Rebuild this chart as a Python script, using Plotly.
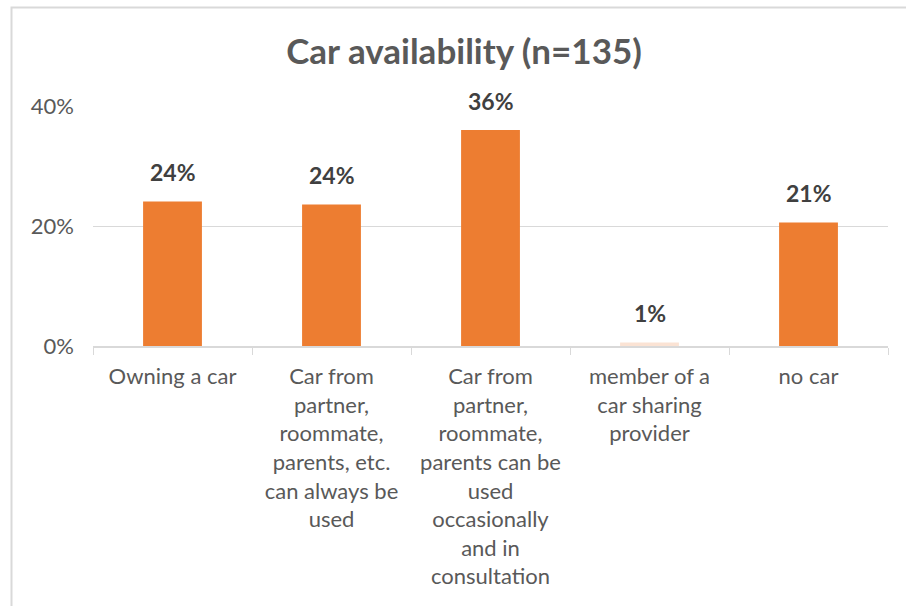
import plotly.graph_objects as go

categories = [
    "Owning a car",
    "Car from<br>partner,<br>roommate,<br>parents, etc.<br>can always be<br>used",
    "Car from<br>partner,<br>roommate,<br>parents can be<br>used<br>occasionally<br>and in<br>consultation",
    "member of a<br>car sharing<br>provider",
    "no car",
]
values = [24.1, 23.6, 36.0, 0.6, 20.6]
bar_colors = ["#ED7D31", "#ED7D31", "#ED7D31", "#FBE3D4", "#ED7D31"]
y_ticks = [0, 20, 40]
y_tick_labels = ["0%", "20%", "40%"]
title_text = "Car availability (n=135)"

FONT = "Lato"
W, H = 906, 606
L, R, T, B = 93, 18, 106, 260

fig = go.Figure()
fig.add_trace(go.Bar(
    x=categories, y=values, width=0.37,
    marker=dict(color=bar_colors, line=dict(width=0)),
    hoverinfo="skip",
))

for c, v in zip(categories, values):
    fig.add_annotation(
        x=c, y=v, xref="x", yref="y", text=f"<b>{round(v)}%</b>",
        showarrow=False, yanchor="middle", yshift=29,
        font=dict(family=FONT, size=23, color="#404040"),
    )

pw, ph = W - L - R, H - T - B
fig.add_shape(
    type="rect", xref="paper", yref="paper",
    x0=(11.5 - L) / pw, x1=(W + 20 - L) / pw,
    y0=-(H + 20 - (H - B)) / ph, y1=((H - B) - 7.5) / ph,
    line=dict(color="#D9D9D9", width=2), fillcolor="rgba(0,0,0,0)", layer="below",
)

fig.update_layout(
    width=W, height=H,
    margin=dict(l=L, r=R, t=T, b=B, autoexpand=False),
    paper_bgcolor="white", plot_bgcolor="white",
    showlegend=False,
    title=dict(
        text=f"<b>{title_text}</b>", x=464 / W, xanchor="center",
        y=1 - 52 / H, yanchor="middle", yref="container",
        font=dict(family=FONT, size=35, color="#595959"),
    ),
    font=dict(family=FONT, color="#595959"),
    bargap=0.63,
)
fig.update_yaxes(
    range=[0, 40], tickmode="array", tickvals=y_ticks, ticktext=y_tick_labels,
    showgrid=True, gridcolor="#D9D9D9", gridwidth=1,
    zeroline=False, showline=False, ticks="",
    tickfont=dict(family=FONT, size=22, color="#595959"),
    ticklabelstandoff=18,
)
fig.update_xaxes(
    showline=True, linecolor="#D9D9D9", linewidth=1.5,
    ticks="outside", tickson="boundaries", ticklen=7, tickcolor="#D9D9D9",
    tickfont=dict(family=FONT, size=22, color="#595959"),
    ticklabelstandoff=10, tickangle=0,
)

fig.write_html("out.html")
